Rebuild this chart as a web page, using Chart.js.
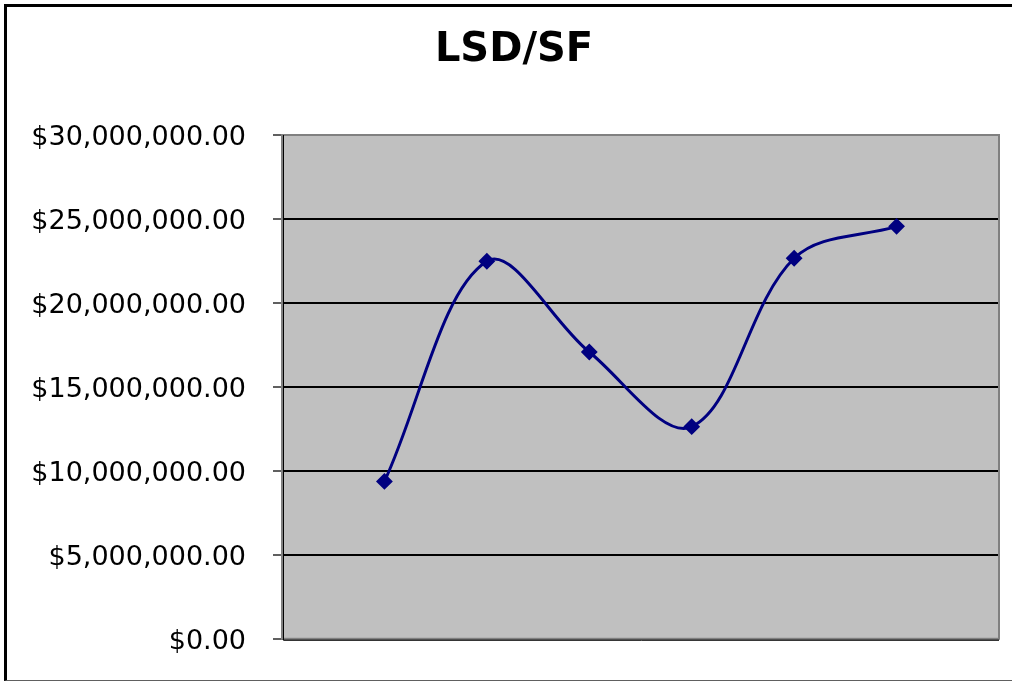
<!DOCTYPE html>
<html>
<head>
<meta charset="utf-8">
<script src="https://cdn.jsdelivr.net/npm/chart.js@4/dist/chart.umd.min.js"></script>
<style>
  html, body { margin: 0; background: #fff; overflow: hidden; width: 1012px; height: 682px; }
  #frame {
    position: absolute; left: 4px; top: 4px; width: 1005px; height: 673px;
    border-left: 3px solid #000; border-top: 3px solid #000; border-bottom: 1px solid #606060;
    pointer-events: none;
  }
  canvas { position: absolute; left: 0; top: 0; }
</style>
</head>
<body>
<canvas id="my-chart" width="1012" height="682"></canvas>
<div id="frame"></div>
<script>
var title = 'LSD/SF'
var points = [1, 2, 3, 4, 5, 6]
var values = [9370000, 22480000, 17080000, 12630000, 22660000, 24560000]
var yTicks = [0, 5000000, 10000000, 15000000, 20000000, 25000000, 30000000]

var data_ = []
for (i in points) {
	data_.push({x: points[i], y: values[i]});
}

// gray plot area + border like excel
var plotArea = {
	id: 'plotArea',
	beforeDraw: function(chart) {
		var a = chart.chartArea, c = chart.ctx;
		c.save();
		c.fillStyle = '#c0c0c0';
		c.fillRect(a.left, a.top, a.right - a.left, a.bottom - a.top);
		c.restore();
	},
	beforeDatasetsDraw: function(chart) {
		var a = chart.chartArea, c = chart.ctx;
		c.save();
		c.strokeStyle = '#808080';
		c.lineWidth = 2;
		c.strokeRect(a.left, a.top, a.right - a.left, a.bottom - a.top);
		c.strokeStyle = '#000';
		c.lineWidth = 1;
		c.beginPath();
		c.moveTo(a.left + 1.5, a.top);
		c.lineTo(a.left + 1.5, a.bottom + 1.5);
		c.lineTo(a.right, a.bottom + 1.5);
		c.stroke();
		c.restore();
	}
}

var ctx = document.getElementById('my-chart');
var myChart = new Chart(ctx, {
	type: 'line',
	data: {
		datasets: [{
			label: title,
			data: data_,
			borderColor: '#000080',
			backgroundColor: '#000080',
			borderWidth: 3,
			tension: 0.35,
			pointStyle: 'rectRot',
			pointRadius: 7,
			pointBorderWidth: 2,
			pointBorderColor: '#000080',
			pointBackgroundColor: '#000080',
			fill: false
		}]
	},
	options: {
		responsive: false,
		animation: false,
		layout: { padding: { left: 29, right: 13, top: 0, bottom: 41 } },
		plugins: {
			legend: { display: false },
			tooltip: { enabled: false },
			title: {
				display: true,
				text: title,
				color: '#000',
				font: { family: 'DejaVu Sans', size: 40, weight: 'bold' },
				padding: { top: 27, bottom: 60 }
			}
		},
		scales: {
			x: { type: 'linear', min: 0, max: 7, display: false },
			y: {
				min: 0,
				max: 30000000,
				afterBuildTicks: function(scale) {
					scale.ticks = yTicks.map(function(v) { return {value: v}; });
				},
				afterFit: function(scale) { scale.width = 253; },
				ticks: {
					color: '#000',
					padding: 27,
					labelOffset: 3,
					font: { family: 'DejaVu Sans', size: 27 },
					callback: function(v) {
						return '$' + v.toLocaleString('en-US', {minimumFractionDigits: 2, maximumFractionDigits: 2});
					}
				},
				grid: {
					color: function(c) { return c.tick && c.tick.value === 30000000 ? '#808080' : '#000'; },
					lineWidth: 2,
					tickColor: '#606060',
					tickLength: 9
				},
				border: { display: false }
			}
		}
	},
	plugins: [plotArea]
});
</script>
</body>
</html>
